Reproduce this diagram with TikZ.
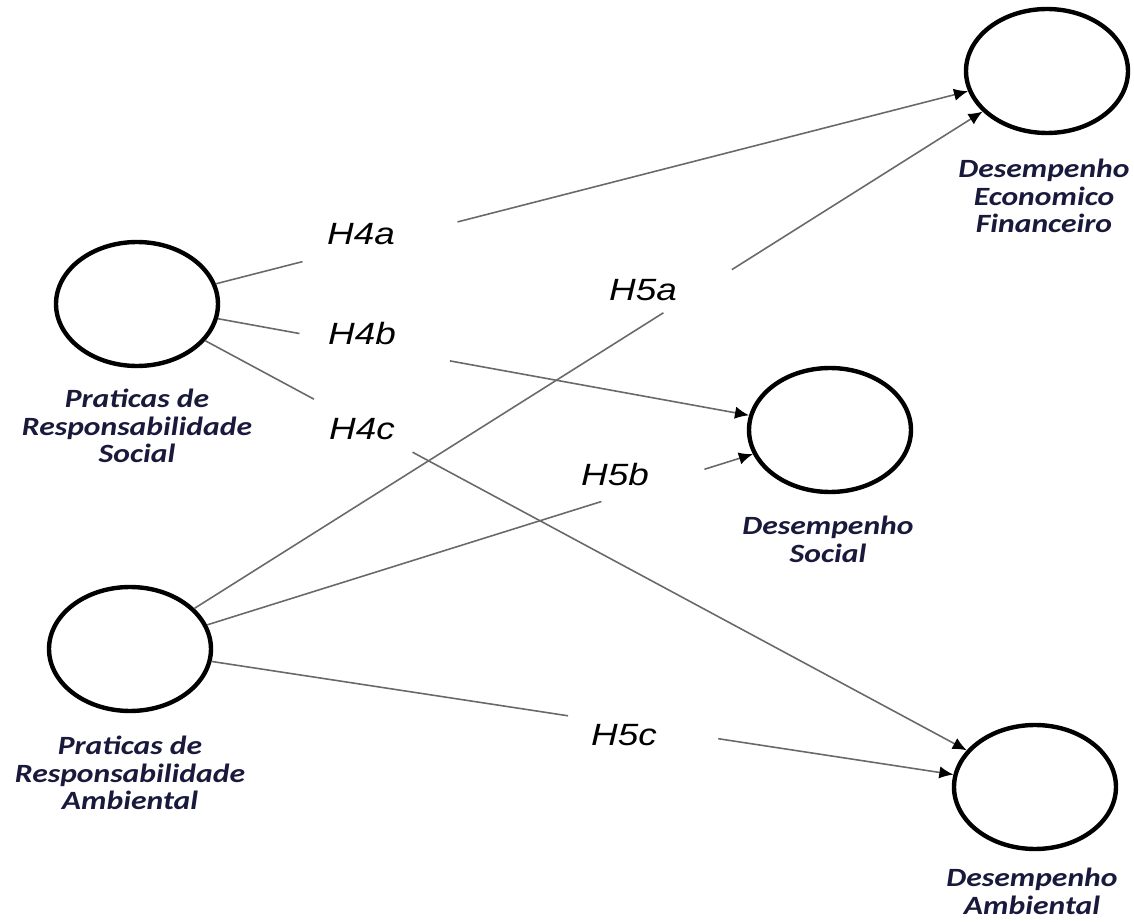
\documentclass[tikz,border=0pt]{standalone}
\usepackage{fontspec}
\usepackage{xcolor}
\usetikzlibrary{arrows.meta,shapes.geometric}

\newfontfamily\capfont[FakeStretch=1.2]{Carlito}
\newfontfamily\hypfont[FakeStretch=1.2]{Liberation Sans}
\definecolor{capcolor}{RGB}{25,25,60}
\definecolor{linkgray}{RGB}{105,105,105}

\tikzset{
  construct/.style={draw=black, line width=2.5pt, ellipse, minimum width=3.24cm, minimum height=2.48cm, inner sep=0pt},
  capt/.style={anchor=north, align=center, inner sep=0pt, text=capcolor, font=\capfont\bfseries\itshape\fontsize{15}{15.65}\selectfont},
  hyp/.style={inner sep=0pt, font=\hypfont\itshape\fontsize{17.5}{20}\selectfont},
  gapdot/.style={circle, inner sep=0pt, outer sep=0pt},
  linkline/.style={draw=linkgray, line width=0.9pt},
  >={Latex[length=8pt,width=7pt,color=black]}
}

\begin{document}
\begin{tikzpicture}[x=0.02cm,y=-0.02cm]
  \useasboundingbox (0,0) rectangle (1134,922);
  % latent constructs
  \node[construct] (prs) at (137,304) {};
  \node[construct] (pra) at (130,649) {};
  \node[construct] (def) at (1047,71) {};
  \node[construct] (ds) at (830,430) {};
  \node[construct] (da) at (1035,787) {};
  % captions
  \node[capt] (prstxt) at (137,389) {Praticas de\\Responsabilidade\\Social};
  \node[capt] (pratxt) at (130,736) {Praticas de\\Responsabilidade\\Ambiental};
  \node[capt] (deftxt) at (1044,159) {Desempenho\\Economico\\Financeiro};
  \node[capt] (dstxt) at (828,516) {Desempenho\\Social};
  \node[capt] (datxt) at (1032,868) {Desempenho\\Ambiental};
  % breaks in the paths
  \path (prs.center) -- node[gapdot, minimum size=3.2cm, pos=.267] (g4a) {} (def.center);
  \path (prs.center) -- node[gapdot, minimum size=3.06cm, pos=.343] (g4b) {} (ds.center);
  \path (prs.center) -- node[gapdot, minimum size=2.24cm, pos=.252] (g4c) {} (da.center);
  \path (pra.center) -- node[gapdot, minimum size=1.62cm, pos=.619] (g5a) {} (def.center);
  \path (pra.center) -- node[gapdot, minimum size=2.16cm, pos=.747] (g5b) {} (ds.center);
  \path (pra.center) -- node[gapdot, minimum size=3.04cm, pos=.567] (g5c) {} (da.center);
  % paths
  \draw[linkline] (prs) -- (g4a);
  \draw[linkline,->] (g4a) -- (def);
  \draw[linkline] (prs) -- (g4b);
  \draw[linkline,->] (g4b) -- (ds);
  \draw[linkline] (prs) -- (g4c);
  \draw[linkline,->] (g4c) -- (da);
  \draw[linkline] (pra) -- (g5a);
  \draw[linkline,->] (g5a) -- (def);
  \draw[linkline] (pra) -- (g5b);
  \draw[linkline,->] (g5b) -- (ds);
  \draw[linkline] (pra) -- (g5c);
  \draw[linkline,->] (g5c) -- (da);
  % hypotheses
  \node[hyp] (h4a) at (361,234) {H4a};
  \node[hyp] (h4b) at (362,334) {H4b};
  \node[hyp] (h4c) at (362,429) {H4c};
  \node[hyp] (h5a) at (643,290) {H5a};
  \node[hyp] (h5b) at (615,475) {H5b};
  \node[hyp] (h5c) at (624,735) {H5c};
\end{tikzpicture}
\end{document}
